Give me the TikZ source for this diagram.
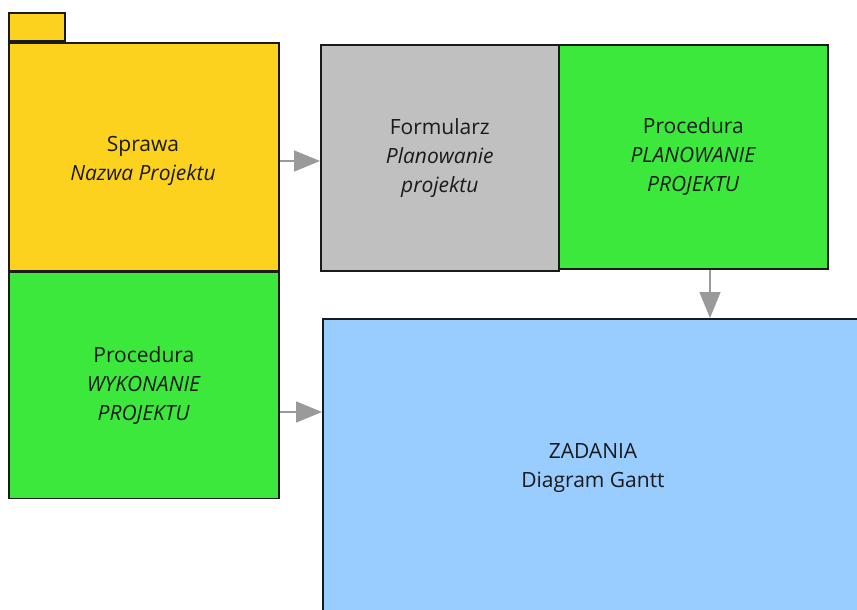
\documentclass[tikz,border=0pt]{standalone}
\usepackage{fontspec}
\setmainfont{Open Sans}
\usepackage{tikz}
\usetikzlibrary{arrows.meta,positioning}
\definecolor{cCase}{HTML}{FDD21F}
\definecolor{cProc}{HTML}{3CE83C}
\definecolor{cForm}{HTML}{C0C0C0}
\definecolor{cTask}{HTML}{99CCFF}
\definecolor{cLink}{HTML}{9A9A9A}
\definecolor{cInk}{HTML}{1A1A1A}
\tikzset{
  box/.style   = {draw=cInk, line width=1.6pt, align=center, inner sep=0pt,
                  font=\fontsize{21}{29}\selectfont, text=cInk},
  casebox/.style = {box, fill=cCase, minimum width=270pt, minimum height=228pt},
  procbox/.style = {box, fill=cProc},
  formbox/.style = {box, fill=cForm, minimum width=238pt, minimum height=226pt},
  taskbox/.style = {box, fill=cTask},
  link/.style  = {-{Triangle[length=26pt,width=21pt]}, draw=cLink, fill=cLink,
                  line width=1.6pt},
}

\begin{document}
\begin{tikzpicture}[x=1pt,y=-1pt]
  \useasboundingbox (0,0) rectangle (857,610);
  \clip (0,0) rectangle (857,610);
  % ---- left column ----
  \node[box, fill=cCase, anchor=south west, minimum width=56pt,
        minimum height=28pt] (tab) at (8,42) {};
  \node[casebox, anchor=north west] (sprawa) at (8,42) {};
  \node[box, draw=none] (sprtxt) at (143,161)
    {Sprawa\\\emph{Nazwa Projektu}};
  \node[procbox, below=0pt of sprawa, minimum width=270pt,
        minimum height=226pt] (wykon)
    {Procedura\\\emph{WYKONANIE}\\\emph{PROJEKTU}};
  % ---- right column ----
  \node[formbox, anchor=north west] (form) at (320,44)
    {Formularz\\\emph{Planowanie}\\\emph{projektu}};
  \node[procbox, anchor=north west, minimum width=269pt,
        minimum height=224pt] (plan) at (558,44)
    {Procedura\\\emph{PLANOWANIE}\\\emph{PROJEKTU}};
  \node[taskbox, anchor=north west, minimum width=560pt,
        minimum height=340pt] (zadania) at (322,318) {};
  \node[box, draw=none] (zadtxt) at (593,468)
    {ZADANIA\\Diagram Gantt};
  % ---- arrows ----
  \draw[link] (sprawa.east |- 0,161) -- (form.west |- 0,161);
  \draw[link] (wykon.east |- 0,412) -- (zadania.west |- 0,412);
  \draw[link] (plan.south -| 710,0) -- (zadania.north -| 710,0);
\end{tikzpicture}
\end{document}
